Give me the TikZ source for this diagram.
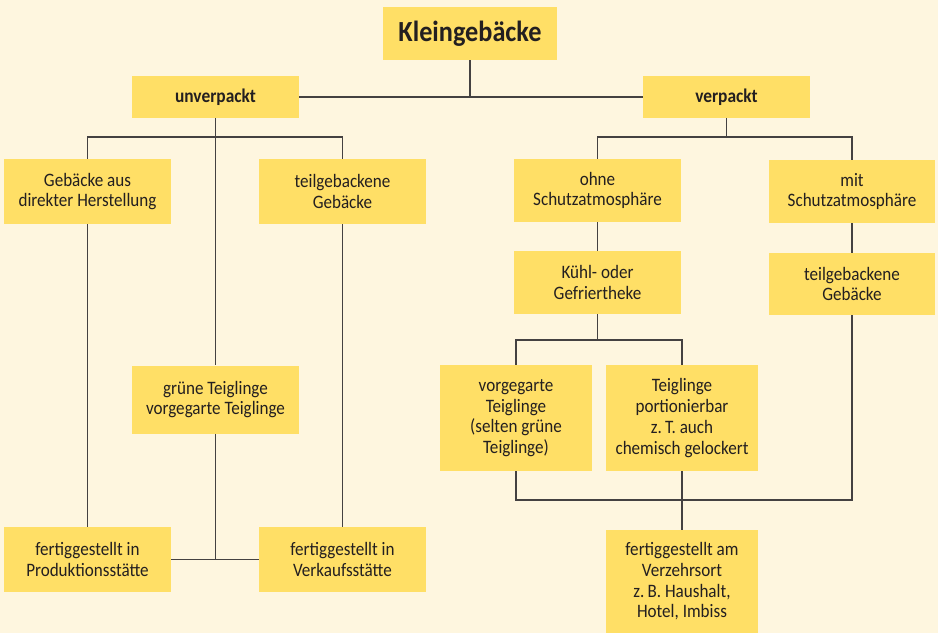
\documentclass[tikz,border=0pt]{standalone}
\usepackage{fontspec}
\setmainfont[FakeStretch=0.9]{Carlito}
\usepackage{xcolor}
\usepackage{tikz}

\definecolor{paper}{RGB}{254,246,223}
\definecolor{boxyellow}{RGB}{255,223,102}
\definecolor{ink}{RGB}{35,31,32}

\tikzset{
  box/.style={fill=boxyellow, text=ink, align=center, inner sep=0pt,
    font=\fontsize{10.8}{11.8}\selectfont},
  headbox/.style={box, font=\bfseries\fontsize{11}{12}\selectfont,
    minimum width=3.34cm, minimum height=0.84cm},
  widebox/.style={box, minimum width=3.34cm, minimum height=1.3cm},
  tallbox/.style={box, minimum width=3.04cm, minimum height=2.12cm},
  link/.style={draw=ink!85, line width=0.6pt}
}

\begin{document}
\begin{tikzpicture}[x=0.02cm, y=-0.02cm]
\fill[paper] (0,0) rectangle (938,633);
\useasboundingbox (0,0) rectangle (938,633);

% top
\node[box, font=\bfseries\fontsize{16.6}{18}\selectfont, minimum width=3.48cm, minimum height=1.06cm] (title) at (470,33.5) {Kleingebäcke};
\node[headbox] (unverpackt) at (215.5,97) {unverpackt};
\node[headbox] (verpackt) at (726.5,97) {verpackt};

% unverpackt
\node[widebox] (direkt) at (87.5,191.5) {Gebäcke aus\\direkter Herstellung};
\node[widebox] (teilgebL) at (342.5,191.5) {teilgebackene\\Gebäcke};
\node[widebox, minimum height=1.36cm] (gruen) at (215.5,399.5) {grüne Teiglinge\\vorgegarte Teiglinge};
\node[widebox] (produktion) at (87.5,559.5) {fertiggestellt in\\Produktionsstätte};
\node[widebox] (verkauf) at (342.5,559.5) {fertiggestellt in\\Verkaufsstätte};

% verpackt
\node[widebox, minimum height=1.26cm] (ohne) at (597.5,190.5) {ohne\\Schutzatmosphäre};
\node[widebox, minimum height=1.26cm] (mit) at (852,191.5) {mit\\Schutzatmosphäre};
\node[widebox, minimum height=1.26cm] (kuehl) at (597.5,282.5) {Kühl- oder\\Gefriertheke};
\node[widebox, minimum width=3.32cm, minimum height=1.24cm] (teilgebR) at (852,284) {teilgebackene\\Gebäcke};
\node[tallbox] (vorgegart) at (516,418) {vorgegarte\\Teiglinge\\(selten grüne\\Teiglinge)};
\node[tallbox] (portion) at (682,418) {Teiglinge\\portionierbar\\z.\,T. auch\\chemisch gelockert};
\node[tallbox, minimum height=2.06cm] (verzehr) at (682,581.5) {fertiggestellt am\\Verzehrsort\\z.\,B. Haushalt,\\Hotel, Imbiss};

\coordinate (ubar) at (215.5,137);
\coordinate (vbar) at (726.5,137);
\coordinate (kbar) at (597.5,340);
\coordinate (rbar) at (682,500);

\draw[link] (unverpackt.east) -- (verpackt.west);
\draw[link] (title.south) -- (title.south |- unverpackt.east);

\draw[link] (unverpackt.south) -- (gruen.north);
\draw[link] (direkt.north) |- (ubar) -| (teilgebL.north);
\draw[link] (direkt.south) -- (produktion.north);
\draw[link] (teilgebL.south) -- (verkauf.north);
\draw[link] (produktion.east) -- (verkauf.west);
\draw[link] (gruen.south) -- (gruen.south |- produktion.east);

\draw[link] (verpackt.south) -- (vbar);
\draw[link] (ohne.north) |- (vbar) -| (mit.north);
\draw[link] (ohne.south) -- (kuehl.north);
\draw[link] (mit.south) -- (teilgebR.north);
\draw[link] (kuehl.south) -- (kbar);
\draw[link] (vorgegart.north) |- (kbar) -| (portion.north);
\draw[link] (vorgegart.south) |- (rbar) -| (teilgebR.south);
\draw[link] (portion.south) -- (verzehr.north);
\end{tikzpicture}
\end{document}
